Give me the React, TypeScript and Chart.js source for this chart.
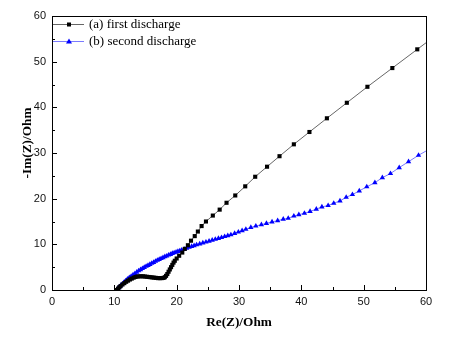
import React, { useEffect, useRef } from "react";
import { Chart, registerables } from "chart.js";
Chart.register(...registerables);

const firstX = [10.4, 10.6, 10.8, 11.0, 11.3, 11.6, 11.9, 12.2, 12.5, 12.8, 13.1, 13.4, 13.7, 14.0, 14.3, 14.6, 14.9, 15.2, 15.5, 15.8, 16.1, 16.4, 16.7, 17.0, 17.3, 17.6, 17.9, 18.1, 18.3, 18.5, 18.7, 18.9, 19.1, 19.3, 19.5, 19.7, 20.0, 20.4, 20.9, 21.3, 21.8, 22.3, 22.9, 23.4, 24.0, 24.7, 25.8, 26.9, 28.0, 29.4, 31.0, 32.6, 34.5, 36.5, 38.8, 41.3, 44.1, 47.3, 50.6, 54.6, 58.6, 62.6];
const firstY = [0, 0.3, 0.6, 0.85, 1.2, 1.5, 1.8, 2.05, 2.3, 2.5, 2.7, 2.85, 2.95, 3.0, 3.0, 3.0, 2.95, 2.9, 2.85, 2.8, 2.75, 2.7, 2.65, 2.6, 2.6, 2.6, 2.65, 2.8, 3.1, 3.5, 4.0, 4.5, 5.0, 5.5, 6.0, 6.4, 6.9, 7.5, 8.2, 9.0, 9.8, 10.8, 11.8, 12.8, 14.0, 15.0, 16.3, 17.6, 19.1, 20.7, 22.7, 24.8, 27.0, 29.3, 31.9, 34.6, 37.6, 41.0, 44.5, 48.6, 52.7, 56.8];

const secondX = [10.4, 10.6, 10.8, 11.0, 11.2, 11.5, 11.8, 12.1, 12.4, 12.7, 13.0, 13.3, 13.6, 13.9, 14.2, 14.5, 14.8, 15.1, 15.4, 15.7, 16.0, 16.3, 16.6, 16.9, 17.2, 17.5, 17.8, 18.1, 18.4, 18.7, 19.0, 19.3, 19.6, 19.9, 20.2, 20.5, 20.8, 21.2, 21.6, 22.0, 22.4, 22.8, 23.2, 23.7, 24.2, 24.7, 25.2, 25.7, 26.2, 26.7, 27.2, 27.7, 28.2, 28.7, 29.3, 29.9, 30.5, 31.1, 31.9, 32.7, 33.6, 34.4, 35.3, 36.2, 37.1, 37.9, 38.8, 39.6, 40.5, 41.4, 42.4, 43.3, 44.3, 45.2, 46.2, 47.2, 48.2, 49.3, 50.5, 51.8, 53.0, 54.3, 55.7, 57.2, 58.8, 60.6];
const secondY = [0, 0.4, 0.7, 0.95, 1.2, 1.6, 2.0, 2.4, 2.7, 3.0, 3.3, 3.6, 3.9, 4.2, 4.45, 4.7, 4.95, 5.2, 5.4, 5.6, 5.85, 6.05, 6.3, 6.5, 6.7, 6.9, 7.1, 7.3, 7.45, 7.65, 7.8, 8.0, 8.15, 8.3, 8.45, 8.6, 8.75, 8.95, 9.15, 9.35, 9.55, 9.7, 9.9, 10.1, 10.3, 10.5, 10.7, 10.9, 11.1, 11.3, 11.5, 11.7, 11.9, 12.1, 12.4, 12.7, 13.0, 13.3, 13.7, 14.0, 14.3, 14.6, 14.9, 15.2, 15.5, 15.7, 16.2, 16.5, 16.8, 17.2, 17.7, 18.2, 18.5, 19.0, 19.5, 20.3, 20.9, 21.7, 22.6, 23.5, 24.6, 25.5, 26.8, 28.1, 29.5, 30.9];

const xTickValues = [0, 10, 20, 30, 40, 50, 60];
const yTickValues = [0, 10, 20, 30, 40, 50, 60];
const minorStep = 5;
const seriesLabels = ["(a) first discharge", "(b) second discharge"];
const xTitle = "Re(Z)/Ohm";
const yTitle = "-Im(Z)/Ohm";

const toPoints = (xs: number[], ys: number[]) => xs.map((x, i) => ({ x, y: ys[i] }));

const framePlugin = {
  id: "frameTicks",
  afterDraw(chart: any) {
    const { ctx, chartArea: a, scales } = chart;
    const xs = scales.x;
    const ys = scales.y;
    ctx.save();
    ctx.strokeStyle = "#000";
    ctx.lineWidth = 1;
    ctx.strokeRect(Math.round(a.left) + 0.5, Math.round(a.top) + 0.5, Math.round(a.right - a.left), Math.round(a.bottom - a.top));
    ctx.beginPath();
    for (let v = xs.min; v <= xs.max + 1e-9; v += minorStep) {
      const px = Math.round(xs.getPixelForValue(v)) + 0.5;
      const len = xTickValues.includes(v) ? 5 : 3;
      ctx.moveTo(px, a.bottom);
      ctx.lineTo(px, a.bottom - len);
    }
    for (let v = ys.min; v <= ys.max + 1e-9; v += minorStep) {
      const py = Math.round(ys.getPixelForValue(v)) + 0.5;
      const len = yTickValues.includes(v) ? 5 : 3;
      ctx.moveTo(a.left, py);
      ctx.lineTo(a.left + len, py);
    }
    ctx.stroke();

    // titles
    ctx.fillStyle = "#000";
    ctx.font = "bold 13.3px 'Liberation Serif', 'Times New Roman', serif";
    ctx.textAlign = "center";
    ctx.textBaseline = "middle";
    ctx.fillText(xTitle, (a.left + a.right) / 2, 323);
    ctx.save();
    ctx.translate(28, 143);
    ctx.rotate(-Math.PI / 2);
    ctx.fillText(yTitle, 0, 0);
    ctx.restore();

    // legend
    const rows = [
      { line: "#666666", fill: "#000000", style: "rect", y: 24 },
      { line: "#7a7aff", fill: "#0000ff", style: "tri", y: 41 },
    ];
    ctx.font = "13px 'Liberation Serif', 'Times New Roman', serif";
    ctx.textAlign = "left";
    rows.forEach((r, i) => {
      ctx.strokeStyle = r.line;
      ctx.lineWidth = 1;
      ctx.beginPath();
      ctx.moveTo(a.left + 1, r.y + 0.5);
      ctx.lineTo(a.left + 32, r.y + 0.5);
      ctx.stroke();
      ctx.fillStyle = r.fill;
      const cx = a.left + 17;
      if (r.style === "rect") {
        ctx.fillRect(cx - 2, r.y - 1.5, 4, 4);
      } else {
        ctx.beginPath();
        ctx.moveTo(cx, r.y - 2.5);
        ctx.lineTo(cx + 3, r.y + 2.5);
        ctx.lineTo(cx - 3, r.y + 2.5);
        ctx.closePath();
        ctx.fill();
      }
      ctx.fillStyle = "#000";
      ctx.fillText(seriesLabels[i], a.left + 37, r.y + 1);
    });
    ctx.restore();
  },
};

export default function App() {
  const ref = useRef<HTMLCanvasElement | null>(null);
  useEffect(() => {
    if (!ref.current) return;
    Chart.defaults.font.family = "'Liberation Sans', Arial, sans-serif";
    const chart = new Chart(ref.current, {
      type: "scatter",
      data: {
        datasets: [
          {
            label: seriesLabels[0],
            data: toPoints(firstX, firstY),
            showLine: true,
            borderColor: "#666666",
            borderWidth: 1,
            backgroundColor: "#000000",
            pointBackgroundColor: "#000000",
            pointBorderWidth: 0,
            pointStyle: "rect",
            pointRadius: 2.9,
            tension: 0,
          },
          {
            label: seriesLabels[1],
            data: toPoints(secondX, secondY),
            showLine: true,
            borderColor: "#7a7aff",
            borderWidth: 1,
            backgroundColor: "#0000ff",
            pointBackgroundColor: "#0000ff",
            pointBorderWidth: 0,
            pointStyle: "triangle",
            pointRadius: 3.1,
            tension: 0,
          },
        ],
      },
      options: {
        animation: false,
        responsive: false,
        maintainAspectRatio: false,
        layout: { padding: { left: 0, right: 29, top: 16, bottom: 0 } },
        plugins: { legend: { display: false }, tooltip: { enabled: false } },
        scales: {
          x: {
            type: "linear",
            min: 0,
            max: 60,
            afterFit: (s: any) => { s.height = 48; },
            afterBuildTicks: (s: any) => { s.ticks = xTickValues.map((v) => ({ value: v })); },
            grid: { display: false, drawTicks: false },
            border: { display: false },
            ticks: { padding: 5, color: "#111", font: { family: "'Liberation Sans', Arial, sans-serif", size: 11 } },
          },
          y: {
            type: "linear",
            min: 0,
            max: 60,
            afterFit: (s: any) => { s.width = 52; },
            afterBuildTicks: (s: any) => { s.ticks = yTickValues.map((v) => ({ value: v })); },
            grid: { display: false, drawTicks: false },
            border: { display: false },
            ticks: { padding: 6, color: "#111", font: { family: "'Liberation Sans', Arial, sans-serif", size: 11 } },
          },
        },
      },
      plugins: [framePlugin],
    });
    return () => chart.destroy();
  }, []);
  return (
    <div style={{ position: "fixed", left: 0, top: 0, width: 455, height: 338, background: "#fff" }}>
      <canvas ref={ref} width={455} height={338} style={{ width: 455, height: 338, display: "block" }} />
    </div>
  );
}
